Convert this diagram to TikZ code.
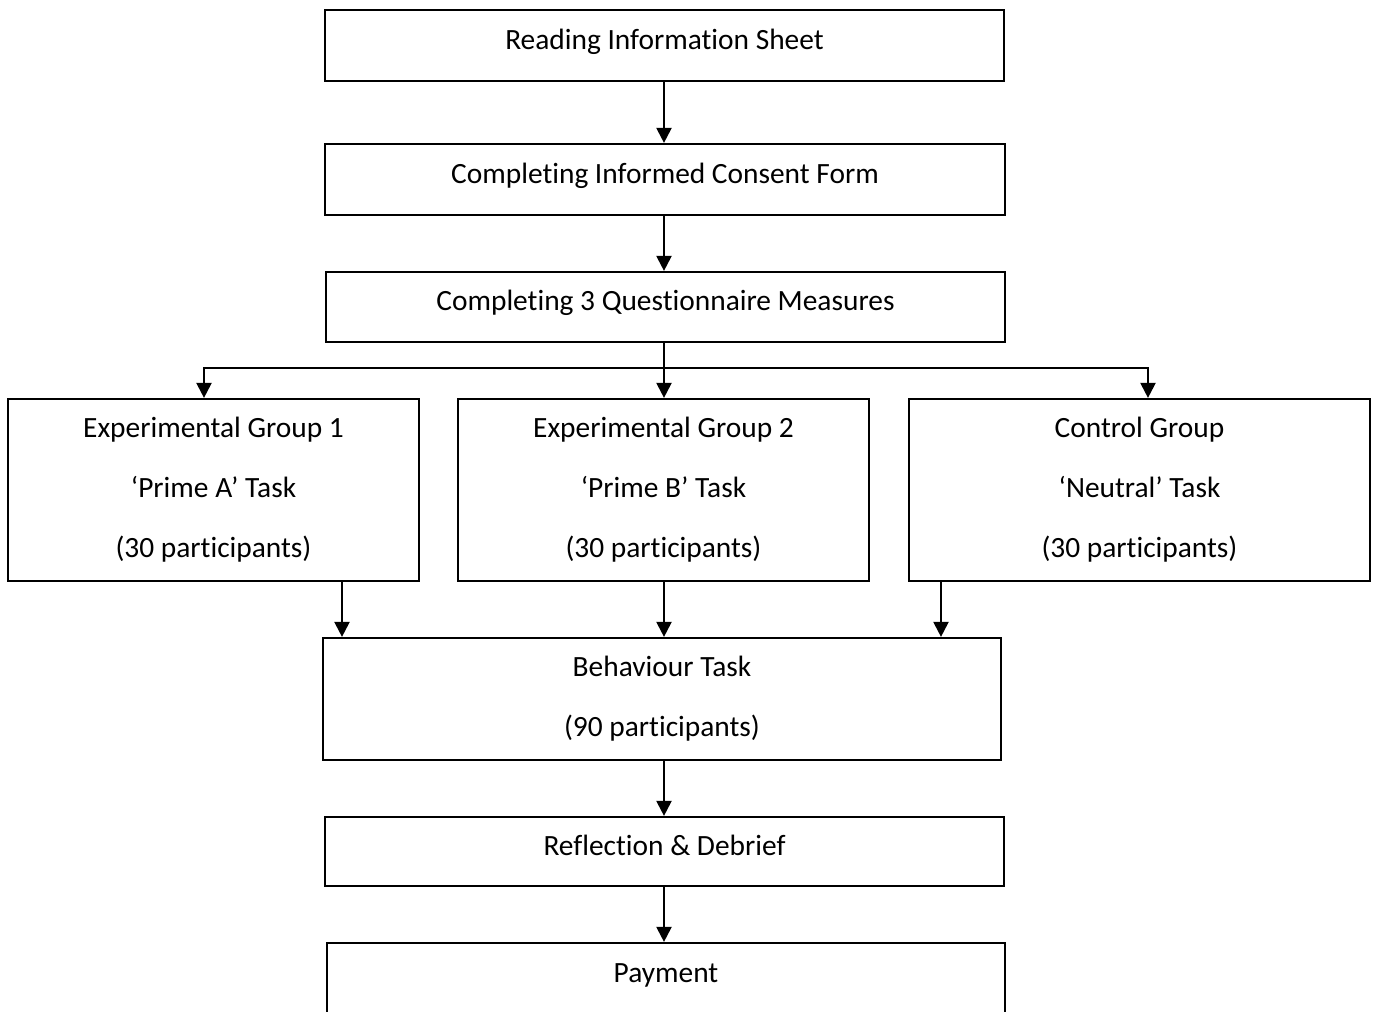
\documentclass[tikz,border=0pt]{standalone}
\usepackage{fontspec}
\setmainfont{Carlito}[Ligatures={NoCommon}]
\usepackage{tikz}
\usetikzlibrary{arrows.meta,positioning,calc}

\tikzset{
  stagebox/.style={draw, line width=1.1pt, align=center, inner sep=0pt,
    font=\fontsize{14.7}{30}\selectfont},
  onebox/.style={stagebox, text height=11pt, text depth=7.4pt},
  flow/.style={-{Triangle[width=7.5pt,length=7.5pt]}, line width=1.1pt}
}

\begin{document}
\begin{tikzpicture}[x=0.5pt, y=-0.5pt]
    \useasboundingbox (0,0) rectangle (1373,1012);

    % Opening steps
    \node[onebox, minimum width=339.5pt, minimum height=35.5pt] (read) at (664.5,45.5) {Reading Information Sheet};
    \node[onebox, minimum width=340pt, minimum height=35.5pt] (consent) at (665,179.5) {Completing Informed Consent Form};
    \node[onebox, minimum width=339.5pt, minimum height=35pt] (quest) at (665.5,307) {Completing 3 Questionnaire Measures};

    % Groups
    \node[stagebox, minimum width=205.5pt, minimum height=91pt] (grpA) at (213.5,490) {Experimental Group 1\\‘Prime A’ Task\\(30 participants)};
    \node[stagebox, minimum width=205.5pt, minimum height=91pt] (grpB) at (663.5,490) {Experimental Group 2\\‘Prime B’ Task\\(30 participants)};
    \node[stagebox, minimum width=230.5pt, minimum height=91pt] (ctrl) at (1139.5,490) {Control Group\\‘Neutral’ Task\\(30 participants)};

    % Closing steps
    \node[stagebox, minimum width=339pt, minimum height=61pt] (behav) at (662,699) {Behaviour Task\\(90 participants)};
    \node[onebox, minimum width=339.5pt, minimum height=34.5pt] (debrief) at (664.5,851.5) {Reflection \& Debrief};
    \node[onebox, text depth=16.9pt, minimum width=339pt, minimum height=45pt] (pay) at (666,988) {Payment};

    % Connectors
    \coordinate (split) at (664,368);
    \draw[flow] (read.south -| split) -- (split |- consent.north);
    \draw[flow] (consent.south -| split) -- (split |- quest.north);
    \draw[flow] (quest.south -| split) -- (split |- grpB.north);
    \draw[flow] (split) -| ([xshift=-4.75pt]grpA.north);
    \draw[flow] (split) -| ([xshift=4.25pt]ctrl.north);

    \draw[flow] ([xshift=64.25pt]grpA.south) -- ([xshift=64.25pt]grpA.south |- behav.north);
    \draw[flow] (grpB.south -| split) -- (split |- behav.north);
    \draw[flow] ([xshift=-99.25pt]ctrl.south) -- ([xshift=-99.25pt]ctrl.south |- behav.north);

    \draw[flow] (behav.south -| split) -- (split |- debrief.north);
    \draw[flow] (debrief.south -| split) -- (split |- pay.north);
\end{tikzpicture}
\end{document}
